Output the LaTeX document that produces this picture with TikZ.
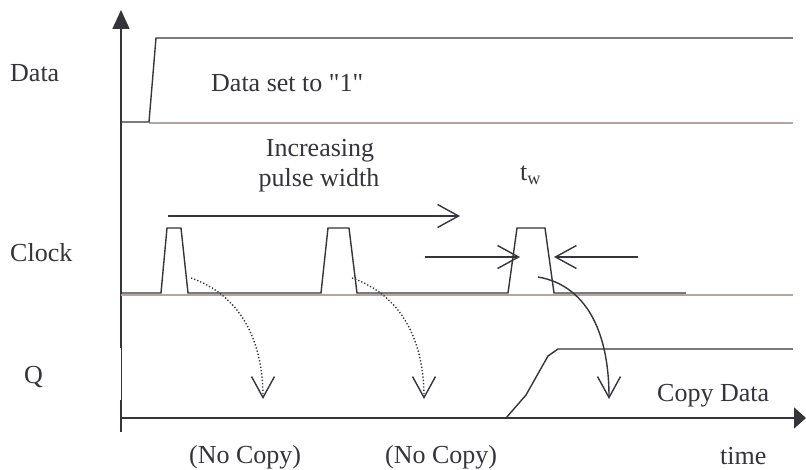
\documentclass[tikz,border=0pt]{standalone}
\usepackage{fontspec}
\setmainfont{Liberation Serif}
\usetikzlibrary{arrows.meta}
\definecolor{ink}{RGB}{52,52,58}
\definecolor{rail}{RGB}{182,164,160}
\begin{document}
\begin{tikzpicture}[x=1pt,y=-1pt,
  every node/.style={inner sep=0pt, text=ink, font=\fontsize{26}{30}\selectfont},
  wave/.style={draw=ink, line width=1.4pt, line join=miter},
  railline/.style={draw=rail, line width=1.4pt},
  vee/.style={-{Straight Barb[length=21pt,width=23pt]}, draw=ink, line width=1.4pt},
  dotted curve/.style={dash pattern=on 1.3pt off 2pt},
  axisline/.style={draw=ink, line width=1.6pt}]
\useasboundingbox (0,0) rectangle (806,470);

% axes
\coordinate (yb) at (121,432);
\coordinate (ythinlo) at (121,400);
\coordinate (ythinhi) at (121,348);
\coordinate (ytop) at (121,10);
\coordinate (tl) at (121,418);
\coordinate (tr) at (806,418);
\draw[axisline] (yb) -- (ythinlo);
\draw[draw=ink, line width=0.8pt] (ythinlo) -- (ythinhi);
\draw[axisline, -{Triangle[length=19pt,width=17pt]}] (ythinhi) -- (ytop);
\draw[axisline, -{Triangle[length=12pt,width=21pt]}] (tl) -- (tr);

% signal labels
\node[anchor=base west] (ldata) at (10,82) {Data};
\node[anchor=base west] (lclock) at (10,262) {Clock};
\node[anchor=base west] (lq) at (24,383) {Q};

% data line
\draw[railline] (149,123) -- (793,123);
\draw[wave] (121,122) -- (149,122) -- (156,38) -- (793,38);
\node[anchor=base west] (dset) at (211,92) {Data set to \textquotedbl 1\textquotedbl};

% clock line with three pulses
\draw[railline] (121,295) -- (793,295);
\draw[wave] (121,293) -- (161,293) -- (167,228) -- (181,228) -- (188,293)
  -- (321,293) -- (328,228) -- (349,228) -- (357,293)
  -- (508,293) -- (517,228) -- (545,228) -- (554,293) -- (686,293);

% pulse width annotation
\node[anchor=base] (inc1) at (320,157) {Increasing};
\node[anchor=base] (inc2) at (319,187) {pulse width};
\coordinate (incA) at (168,216);
\coordinate (incB) at (460,216);
\draw[vee] (incA) -- (incB);

\node[anchor=base west] (tw) at (520,181) {t\textsubscript{w}};
\coordinate (twLA) at (425,257);
\coordinate (twLB) at (520,257);
\coordinate (twRA) at (638,257);
\coordinate (twRB) at (554,257);
\draw[vee] (twLA) -- (twLB);
\draw[vee] (twRA) -- (twRB);

% Q output
\draw[draw=ink, line width=2pt] (323,418) -- (506,418);
\draw[wave] (506,418) -- (526,395) -- (548,356) -- (558,349) -- (793,349);

% effect of each clock pulse
\coordinate (p1) at (191,278);
\coordinate (q1) at (263,399);
\coordinate (p2) at (352,278);
\coordinate (q2) at (424,399);
\coordinate (p3) at (538,277);
\coordinate (q3) at (609,399);
\draw[vee, dotted curve] (p1) .. controls (240,295) and (263,340) .. (q1);
\draw[vee, dotted curve] (p2) .. controls (401,295) and (424,340) .. (q2);
\draw[vee] (p3) .. controls (585,285) and (609,330) .. (q3);

\node[anchor=base west] (copy) at (657,401) {Copy Data};
\node[anchor=base west] (nc1) at (189,463) {(No Copy)};
\node[anchor=base west] (nc2) at (385,463) {(No Copy)};
\node[anchor=base west] (time) at (720,464) {time};
\end{tikzpicture}
\end{document}
